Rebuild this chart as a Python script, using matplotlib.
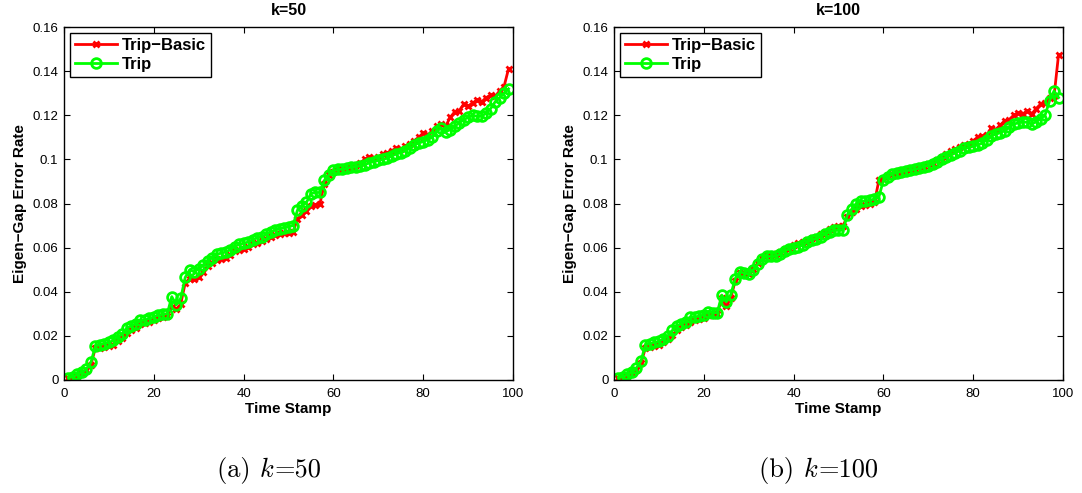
import numpy as np
import matplotlib
matplotlib.use("Agg")
import matplotlib.pyplot as plt

plt.rcParams['font.family'] = ['Liberation Sans', 'DejaVu Sans']
plt.rcParams['mathtext.fontset'] = 'cm'

time_stamps = list(range(1, 100))

trip_basic_k50 = [
    0.0008, 0.0012, 0.0020, 0.0030, 0.0045, 0.0070, 0.0145, 0.0145, 0.0150, 0.0155,
    0.0160, 0.0175, 0.0190, 0.0215, 0.0225, 0.0235, 0.0255, 0.0260, 0.0265, 0.0270,
    0.0280, 0.0285, 0.0290, 0.0330, 0.0320, 0.0345, 0.0440, 0.0460, 0.0460, 0.0465,
    0.0490, 0.0515, 0.0530, 0.0545, 0.0550, 0.0555, 0.0565, 0.0585, 0.0590, 0.0595,
    0.0605, 0.0615, 0.0620, 0.0630, 0.0640, 0.0650, 0.0655, 0.0660, 0.0665, 0.0665,
    0.0670, 0.0730, 0.0750, 0.0765, 0.0790, 0.0795, 0.0800, 0.0890, 0.0930, 0.0945,
    0.0950, 0.0955, 0.0960, 0.0965, 0.0975, 0.0985, 0.1000, 0.1010, 0.1005, 0.1010,
    0.1025, 0.1030, 0.1040, 0.1050, 0.1045, 0.1060, 0.1070, 0.1085, 0.1100, 0.1120,
    0.1110, 0.1130, 0.1150, 0.1160, 0.1150, 0.1190, 0.1215, 0.1220, 0.1250, 0.1240,
    0.1255, 0.1270, 0.1260, 0.1280, 0.1290, 0.1285, 0.1310, 0.1330, 0.1410]

trip_k50 = [
    0.0010, 0.0015, 0.0025, 0.0035, 0.0050, 0.0080, 0.0155, 0.0160, 0.0165, 0.0170,
    0.0180, 0.0195, 0.0210, 0.0235, 0.0245, 0.0255, 0.0270, 0.0270, 0.0280, 0.0285,
    0.0295, 0.0298, 0.0300, 0.0378, 0.0340, 0.0370, 0.0465, 0.0500, 0.0490, 0.0505,
    0.0520, 0.0540, 0.0555, 0.0570, 0.0575, 0.0580, 0.0590, 0.0605, 0.0615, 0.0620,
    0.0625, 0.0635, 0.0645, 0.0650, 0.0660, 0.0670, 0.0680, 0.0685, 0.0690, 0.0695,
    0.0700, 0.0770, 0.0790, 0.0805, 0.0845, 0.0850, 0.0850, 0.0905, 0.0930, 0.0950,
    0.0955, 0.0955, 0.0960, 0.0965, 0.0967, 0.0970, 0.0975, 0.0985, 0.0990, 0.0995,
    0.1000, 0.1005, 0.1015, 0.1025, 0.1030, 0.1040, 0.1050, 0.1065, 0.1075, 0.1080,
    0.1090, 0.1100, 0.1130, 0.1140, 0.1125, 0.1135, 0.1150, 0.1165, 0.1180, 0.1190,
    0.1200, 0.1195, 0.1195, 0.1210, 0.1230, 0.1260, 0.1280, 0.1300, 0.1320]

trip_basic_k100 = [
    0.0008, 0.0012, 0.0020, 0.0030, 0.0045, 0.0075, 0.0145, 0.0150, 0.0155, 0.0160,
    0.0170, 0.0185, 0.0205, 0.0225, 0.0240, 0.0250, 0.0265, 0.0270, 0.0275, 0.0280,
    0.0295, 0.0295, 0.0300, 0.0370, 0.0335, 0.0370, 0.0450, 0.0485, 0.0480, 0.0480,
    0.0505, 0.0530, 0.0555, 0.0565, 0.0568, 0.0572, 0.0580, 0.0595, 0.0600, 0.0610,
    0.0620, 0.0625, 0.0635, 0.0645, 0.0650, 0.0660, 0.0670, 0.0685, 0.0695, 0.0700,
    0.0700, 0.0740, 0.0760, 0.0775, 0.0790, 0.0793, 0.0800, 0.0805, 0.0905, 0.0910,
    0.0925, 0.0935, 0.0940, 0.0945, 0.0950, 0.0955, 0.0958, 0.0965, 0.0972, 0.0978,
    0.0985, 0.0995, 0.1010, 0.1025, 0.1036, 0.1045, 0.1055, 0.1065, 0.1070, 0.1085,
    0.1100, 0.1105, 0.1110, 0.1140, 0.1135, 0.1155, 0.1175, 0.1180, 0.1200, 0.1210,
    0.1205, 0.1220, 0.1205, 0.1230, 0.1250, 0.1255, 0.1276, 0.1285, 0.1473]

trip_k100 = [
    0.0010, 0.0015, 0.0025, 0.0035, 0.0055, 0.0085, 0.0160, 0.0165, 0.0170, 0.0175,
    0.0185, 0.0200, 0.0225, 0.0245, 0.0255, 0.0265, 0.0285, 0.0285, 0.0290, 0.0295,
    0.0310, 0.0305, 0.0305, 0.0385, 0.0355, 0.0385, 0.0460, 0.0490, 0.0485, 0.0480,
    0.0500, 0.0525, 0.0550, 0.0560, 0.0560, 0.0560, 0.0570, 0.0585, 0.0595, 0.0600,
    0.0605, 0.0610, 0.0625, 0.0635, 0.0640, 0.0650, 0.0660, 0.0670, 0.0680, 0.0680,
    0.0678, 0.0750, 0.0775, 0.0800, 0.0810, 0.0812, 0.0815, 0.0820, 0.0830, 0.0905,
    0.0920, 0.0935, 0.0940, 0.0945, 0.0948, 0.0952, 0.0955, 0.0960, 0.0967, 0.0972,
    0.0980, 0.0990, 0.1000, 0.1010, 0.1020, 0.1030, 0.1040, 0.1050, 0.1055, 0.1060,
    0.1065, 0.1073, 0.1090, 0.1105, 0.1115, 0.1120, 0.1130, 0.1145, 0.1160, 0.1165,
    0.1170, 0.1168, 0.1160, 0.1170, 0.1185, 0.1200, 0.1265, 0.1310, 0.1280]

titles = ["k=50", "k=100"]
caption_prefix = ["(a) ", "(b) "]
caption_suffix = ["=50", "=100"]
series_names = ["Trip\u2212Basic", "Trip"]
x_ticks = [0, 20, 40, 60, 80, 100]
y_ticks = [0, 0.02, 0.04, 0.06, 0.08, 0.1, 0.12, 0.14, 0.16]
y_tick_labels = ["0", "0.02", "0.04", "0.06", "0.08", "0.1", "0.12", "0.14", "0.16"]

W, H = 1082, 493
fig = plt.figure(figsize=(W / 100, H / 100), dpi=100)

panels = [
    (64, trip_basic_k50, trip_k50),
    (614, trip_basic_k100, trip_k100),
]
cap_x = [269, 819]

for i, (left_px, red_vals, green_vals) in enumerate(panels):
    ax = fig.add_axes([left_px / W, (H - 380) / H, 449 / W, 353 / H])
    ax.plot(time_stamps, red_vals, color='#ff0000', lw=2, marker='x',
            ms=4, mew=2, label=series_names[0])
    ax.plot(time_stamps, green_vals, color='#00ff00', lw=2, marker='o',
            ms=7, mew=2, mfc='none', label=series_names[1])
    ax.set_xlim(0, 100)
    ax.set_ylim(0, 0.16)
    ax.set_xticks(x_ticks)
    ax.set_yticks(y_ticks)
    ax.set_yticklabels(y_tick_labels)
    ax.tick_params(direction='in', top=True, right=True, length=4, width=0.8,
                   labelsize=9.5)
    ax.tick_params(axis='x', pad=6)
    ax.tick_params(axis='y', pad=4)
    for sp in ax.spines.values():
        sp.set_linewidth(1.0)
    ax.set_title(titles[i], fontsize=11.5, fontweight='bold', pad=9)
    ax.set_xlabel("Time Stamp", fontsize=11, fontweight='bold', labelpad=1)
    ax.set_ylabel("Eigen\u2212Gap Error Rate", fontsize=11, fontweight='bold', labelpad=4)
    leg = ax.legend(loc='upper left', prop={'weight': 'bold', 'size': 12},
                    fancybox=False, edgecolor='black', framealpha=1,
                    borderpad=0.3, handlelength=2.5, handletextpad=0.3,
                    labelspacing=0.25, borderaxespad=0.35)
    leg.get_frame().set_linewidth(1.0)

    # caption: "(a) k=50" in Computer Modern, italic k
    t1 = fig.text(0, 23 / H, caption_prefix[i], fontsize=19, family='cmr10', va='center')
    t2 = fig.text(0, 23 / H, r"$k$", fontsize=19, va='center')
    t3 = fig.text(0, 23 / H, caption_suffix[i], fontsize=19, family='cmr10', va='center')
    fig.canvas.draw()
    r = fig.canvas.get_renderer()
    w1 = t1.get_window_extent(r).width
    w2 = t2.get_window_extent(r).width
    w3 = t3.get_window_extent(r).width
    total = w1 + w2 + w3
    x0 = cap_x[i] - total / 2
    t1.set_x(x0 / W)
    t2.set_x((x0 + w1) / W)
    t3.set_x((x0 + w1 + w2) / W)

fig.savefig("out.png", dpi=100)
